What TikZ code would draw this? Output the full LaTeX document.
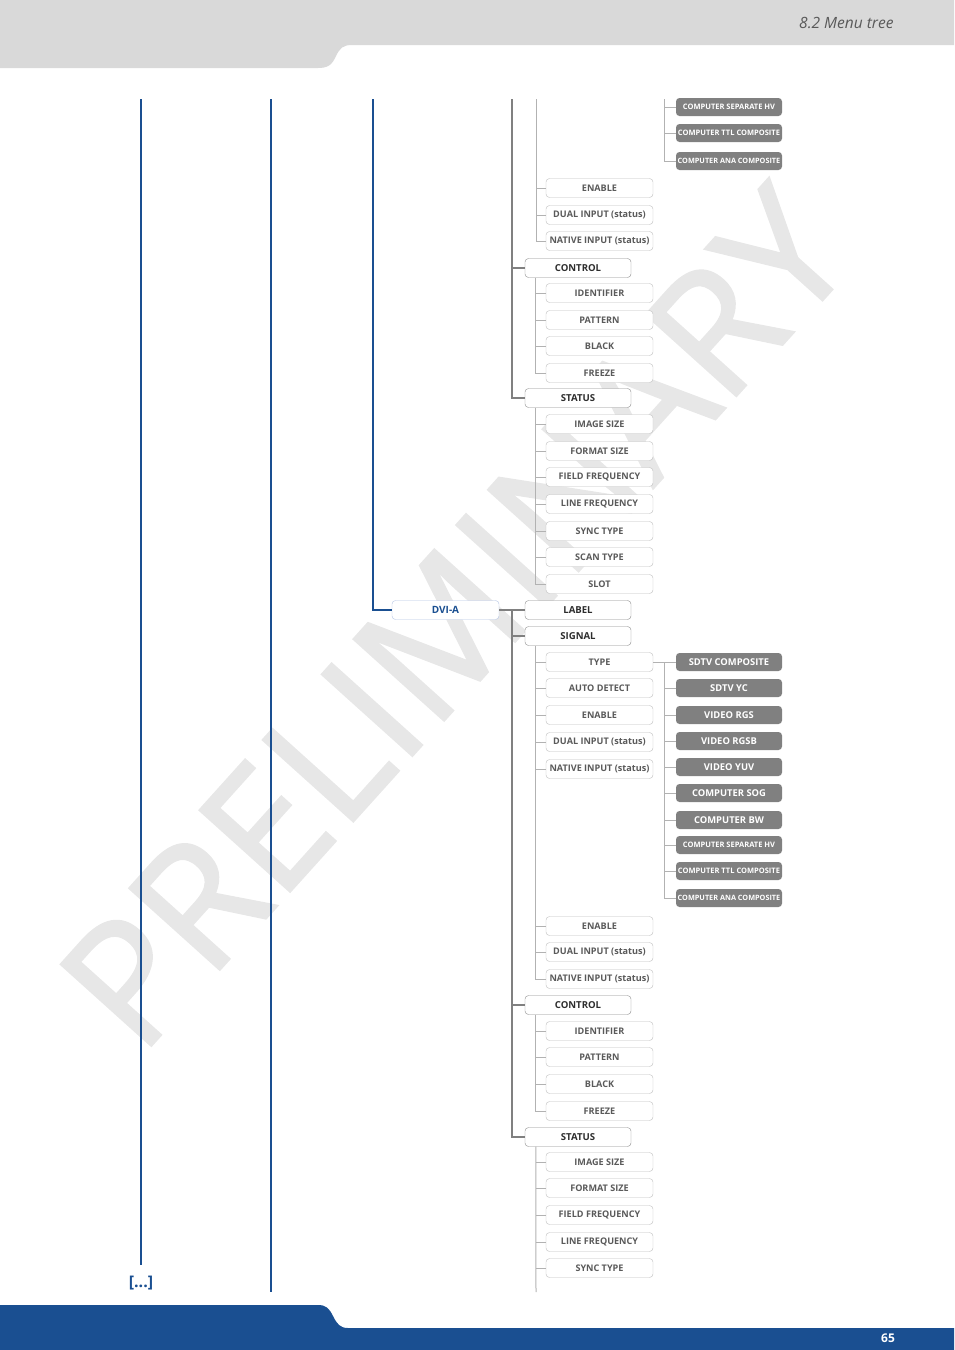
\documentclass[tikz,border=0pt]{standalone}
\usepackage{fontspec}
\setmainfont{Open Sans}
\newfontfamily\wmfont{Open Sans}[FakeBold=1.5]
\definecolor{kblue}{RGB}{26,79,145}
\definecolor{hdrgray}{RGB}{217,217,217}
\definecolor{dkline}{RGB}{128,128,128}
\definecolor{ltline}{RGB}{178,178,178}
\definecolor{gfill}{RGB}{128,128,128}
\definecolor{wmark}{RGB}{231,231,231}
\definecolor{txtone}{RGB}{45,45,45}
\definecolor{txttwo}{RGB}{90,90,90}
\definecolor{bordone}{RGB}{140,140,140}
\definecolor{bordtwo}{RGB}{190,190,190}
\definecolor{dviborder}{RGB}{180,196,228}
\begin{document}
\begin{tikzpicture}[x=1pt,y=-1pt,
  lvone/.style={draw=bordone,fill=white,rounded corners=3.5pt,minimum width=106pt,minimum height=19pt,inner sep=0pt,text=txtone,font=\bfseries\fontsize{9.6}{11}\selectfont},
  lvtwo/.style={draw=bordtwo,fill=white,rounded corners=3.5pt,minimum width=107pt,minimum height=19pt,inner sep=0pt,text=txttwo,font=\bfseries\fontsize{9.1}{11}\selectfont},
  gbox/.style={fill=gfill,rounded corners=3.5pt,minimum width=106pt,minimum height=18pt,inner sep=0pt,text=white,font=\bfseries\fontsize{9.4}{11}\selectfont},
  gsmall/.style={gbox,font=\bfseries\fontsize{7.5}{9}\selectfont},
  gtiny/.style={gbox,font=\bfseries\fontsize{7.3}{9}\selectfont},
  dvibox/.style={draw=dviborder,fill=white,rounded corners=3.5pt,minimum width=107pt,minimum height=19pt,inner sep=0pt,text=kblue,font=\bfseries\fontsize{10}{11}\selectfont},
  bline/.style={draw=kblue},
  dk/.style={draw=dkline,line width=1.6pt},
  lt/.style={draw=ltline,line width=1pt}
]
\useasboundingbox (0,0) rectangle (954,1350);
% header
\fill[hdrgray] (0,0) -- (954,0) -- (954,45) -- (352,45) .. controls (343,45) and (340,48) .. (336,56) .. controls (332,65) and (328,68) .. (318,68) -- (0,68) -- cycle;
\node[anchor=east,text=black!65,font=\itshape\fontsize{15.5}{17}\selectfont] (hdr) at (897,23) {8.2 Menu tree};
% footer
\fill[kblue] (0,1350) -- (954,1350) -- (954,1328) -- (348,1328) .. controls (340,1328) and (337,1324) .. (333,1316) .. controls (329,1308) and (326,1305) .. (318,1305) -- (0,1305) -- cycle;
\node[text=white,font=\bfseries\fontsize{12}{13}\selectfont] (pg) at (888,1338) {65};
% watermark
\node[anchor=base west,rotate=48,inner sep=0pt,text=wmark,font=\wmfont\fontsize{170}{170}\selectfont] (wm) at (140,1058) {PRELIMINARY};
% blue lines
\coordinate (ba) at (141,99);
\coordinate (bb) at (141,1265);
\draw[bline,line width=2.8pt] (ba) -- (bb);
\node[text=kblue,font=\bfseries\fontsize{16}{18}\selectfont] (dots) at (141,1283) {[...]};
\coordinate (ca) at (271,99);
\coordinate (cb) at (271,1292);
\draw[bline,line width=1.8pt] (ca) -- (cb);
% DVI-A
\node[dvibox] (dvia) at (445.5,610) {DVI-A};
\coordinate (da) at (373,99);
\draw[bline,line width=1.8pt] (da) |- (dvia.west);

% ===== top (previous input) section =====
\node[gsmall] (csep1) at (729,107) {COMPUTER SEPARATE HV};
\node[gsmall] (cttl1) at (729,133) {COMPUTER TTL COMPOSITE};
\node[gtiny] (cana1) at (729,161) {COMPUTER ANA COMPOSITE};
\node[lvtwo] (en1) at (599.5,188) {ENABLE};
\node[lvtwo] (du1) at (599.5,215) {DUAL INPUT (status)};
\node[lvtwo] (na1) at (599.5,241) {NATIVE INPUT (status)};
\node[lvone] (ctl1) at (578,268) {CONTROL};
\node[lvtwo] (id1) at (599.5,293) {IDENTIFIER};
\node[lvtwo] (pa1) at (599.5,320) {PATTERN};
\node[lvtwo] (bl1) at (599.5,346) {BLACK};
\node[lvtwo] (fr1) at (599.5,373) {FREEZE};
\node[lvone] (st1) at (578,398) {STATUS};
\node[lvtwo] (im1) at (599.5,424) {IMAGE SIZE};
\node[lvtwo] (fo1) at (599.5,451) {FORMAT SIZE};
\node[lvtwo] (fi1) at (599.5,477) {FIELD FREQUENCY};
\node[lvtwo] (li1) at (599.5,504) {LINE FREQUENCY};
\node[lvtwo] (sy1) at (599.5,531) {SYNC TYPE};
\node[lvtwo] (sc1) at (599.5,557) {SCAN TYPE};
\node[lvtwo] (sl1) at (599.5,584) {SLOT};

\coordinate (ta) at (512,99);
\draw[dk] (ta) |- (st1.west);
\draw[dk] (ta |- ctl1.west) -- (ctl1.west);
\coordinate (tb) at (536,99);
\draw[lt] (tb) |- (na1.west);
\foreach \n in {en1,du1} \draw[lt] (tb |- \n.west) -- (\n.west);
\coordinate (tc) at (664,99);
\draw[lt] (tc) |- (cana1.west);
\foreach \n in {csep1,cttl1} \draw[lt] (tc |- \n.west) -- (\n.west);
\draw[lt] ([xshift=11pt]ctl1.south west) |- (fr1.west);
\foreach \n in {id1,pa1,bl1} \draw[lt] (tb |- \n.west) -- (\n.west);
\draw[lt] ([xshift=11pt]st1.south west) |- (sl1.west);
\foreach \n in {im1,fo1,fi1,li1,sy1,sc1} \draw[lt] (tb |- \n.west) -- (\n.west);

% ===== DVI-A section =====
\node[lvone] (lab2) at (578,610) {LABEL};
\node[lvone] (sig2) at (578,636) {SIGNAL};
\node[lvtwo] (ty2) at (599.5,662) {TYPE};
\node[lvtwo] (au2) at (599.5,688) {AUTO DETECT};
\node[lvtwo] (en2) at (599.5,715) {ENABLE};
\node[lvtwo] (du2) at (599.5,742) {DUAL INPUT (status)};
\node[lvtwo] (na2) at (599.5,769) {NATIVE INPUT (status)};
\node[gbox] (sc) at (729,662) {SDTV COMPOSITE};
\node[gbox] (syc) at (729,688) {SDTV YC};
\node[gbox] (vrgs) at (729,715) {VIDEO RGS};
\node[gbox] (vrgsb) at (729,741) {VIDEO RGSB};
\node[gbox] (vyuv) at (729,767) {VIDEO YUV};
\node[gbox] (csog) at (729,793) {COMPUTER SOG};
\node[gbox] (cbw) at (729,820) {COMPUTER BW};
\node[gsmall] (csep2) at (729,845) {COMPUTER SEPARATE HV};
\node[gsmall] (cttl2) at (729,871) {COMPUTER TTL COMPOSITE};
\node[gtiny] (cana2) at (729,898) {COMPUTER ANA COMPOSITE};
\node[lvtwo] (en3) at (599.5,926) {ENABLE};
\node[lvtwo] (du3) at (599.5,952) {DUAL INPUT (status)};
\node[lvtwo] (na3) at (599.5,979) {NATIVE INPUT (status)};
\node[lvone] (ctl2) at (578,1005) {CONTROL};
\node[lvtwo] (id2) at (599.5,1031) {IDENTIFIER};
\node[lvtwo] (pa2) at (599.5,1057) {PATTERN};
\node[lvtwo] (bl2) at (599.5,1084) {BLACK};
\node[lvtwo] (fr2) at (599.5,1111) {FREEZE};
\node[lvone] (st2) at (578,1137) {STATUS};
\node[lvtwo] (im2) at (599.5,1162) {IMAGE SIZE};
\node[lvtwo] (fo2) at (599.5,1188) {FORMAT SIZE};
\node[lvtwo] (fi2) at (599.5,1215) {FIELD FREQUENCY};
\node[lvtwo] (li2) at (599.5,1242) {LINE FREQUENCY};
\node[lvtwo] (sy2) at (599.5,1268) {SYNC TYPE};

\draw[dk] (dvia.east) -- (lab2.west);
\coordinate (td) at (512,610);
\draw[dk] (td) |- (st2.west);
\foreach \n in {sig2,ctl2} \draw[dk] (td |- \n.west) -- (\n.west);
\coordinate (tbb) at (536,600);
\draw[lt] ([xshift=11pt]sig2.south west) |- (na3.west);
\foreach \n in {ty2,au2,en2,du2,na2,en3,du3} \draw[lt] (tbb |- \n.west) -- (\n.west);
\draw[lt] ([xshift=11pt]ctl2.south west) |- (fr2.west);
\foreach \n in {id2,pa2,bl2} \draw[lt] (tbb |- \n.west) -- (\n.west);
\coordinate (tend) at (536,1292);
\draw[lt] ([xshift=11pt]st2.south west) -- (tend);
\foreach \n in {im2,fo2,fi2,li2,sy2} \draw[lt] (tbb |- \n.west) -- (\n.west);
\draw[lt] (ty2.east) -- (sc.west);
\coordinate (te) at (664,662);
\draw[lt] (te) |- (cana2.west);
\foreach \n in {syc,vrgs,vrgsb,vyuv,csog,cbw,csep2,cttl2} \draw[lt] (te |- \n.west) -- (\n.west);
\end{tikzpicture}
\end{document}
